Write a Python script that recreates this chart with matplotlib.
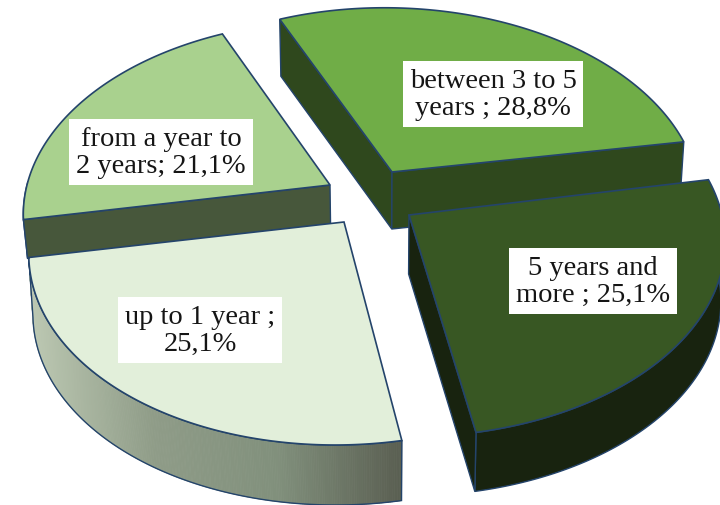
import numpy as np
import matplotlib
matplotlib.use("Agg")
import matplotlib.pyplot as plt
from matplotlib.collections import PolyCollection
from matplotlib.colors import LinearSegmentedColormap
from matplotlib.patches import Polygon

# share of respondents per tenure group
labels = ["between 3 to 5\nyears ; ", "5 years and\nmore ; ", "up to 1 year ;\n", "from a year to\n2 years; "]
values = [28.8, 25.1, 25.1, 21.1]

top_colors = ["#70ad47", "#385723", "#e2efda", "#a9d18e"]
side_colors = ["#2f481d", "#18230f", "#8f9c88", "#47573b"]
edge_color = "#24446b"

# exploded apex of each slice in pixels, and label centres
apex_x = [392, 409, 344, 330]
apex_y = [173, 216, 223, 186]
radius_x = [305, 313, 311, 303]
radius_y = [187, 191, 192, 187]
shear = [0, 0, -0.04, -0.026]
tilt = [0.015, 0, 0, 0]
depth = [57, 59, 60, 39]
label_x = [493, 593, 200, 161]
label_y = [95, 282, 331, 153]

# which straight walls can be seen: (first radius, last radius)
walls = [(True, True), (False, True), (False, False), (True, False)]

start_angle = 114.5
persp = 0.139
side_shrink = 0.012
center_x = 375


# tilted disc with a little perspective, far side compressed
def project(t, i):
  u = np.cos(t)
  v = np.sin(t)
  w = 1 + persp * v
  dx = radius_x[i] * u / w
  dy = -radius_y[i] * v / w
  return apex_x[i] + dx + shear[i] * dy, apex_y[i] + dy + tilt[i] * dx


def lower(x, y, d):
  return x - (x - center_x) * side_shrink, y + d


fig = plt.figure(figsize=(7.2, 5.06), dpi=100)
ax = fig.add_axes([0, 0, 1, 1])

shares = np.array(values) / np.sum(values) * 360
ends = start_angle - np.cumsum(shares)
starts = ends + shares

side_cmap = LinearSegmentedColormap.from_list("side", ["#bcc8b2", "#8f9c88", "#81907c", "#5a5f52"])

# back slices first so the front ones cover them
for order, i in enumerate([0, 3, 2, 1]):
  t = np.radians(np.linspace(starts[i], ends[i], 300))
  x, y = project(t, i)
  xs = np.r_[apex_x[i], x]
  ys = np.r_[apex_y[i], y]
  bx, by = lower(xs, ys, depth[i])
  z = order + 1

  # outer rim, only the part facing the viewer
  front = np.sin(t) < 0.02
  if front.any():
    rx, ry = x[front], y[front]
    rbx, rby = lower(rx, ry, depth[i])
    rim = np.c_[np.r_[rx, rbx[::-1]], np.r_[ry, rby[::-1]]]
    if i == 2:
      # shaded rim made of thin strips, dark towards the right
      strips = [[(rx[k], ry[k]), (rx[k + 1], ry[k + 1]), (rbx[k + 1], rby[k + 1]), (rbx[k], rby[k])]
                for k in range(len(rx) - 1)]
      shade = PolyCollection(strips, cmap=side_cmap, edgecolors="face", linewidths=0.6, zorder=z)
      shade.set_array((rx[:-1] - rx.min()) / (rx.max() - rx.min()))
      ax.add_collection(shade)
      ax.add_patch(Polygon(rim, closed=True, fc="none", ec=edge_color, lw=1.0, zorder=z + 0.1))
    else:
      ax.add_patch(Polygon(rim, closed=True, fc=side_colors[i], ec=edge_color, lw=1.0, zorder=z))

  # inner walls
  for show, j in zip(walls[i], [1, -1]):
    if show:
      wall = [(xs[0], ys[0]), (xs[j], ys[j]), (bx[j], by[j]), (bx[0], by[0])]
      ax.add_patch(Polygon(wall, closed=True, fc=side_colors[i], ec=edge_color, lw=1.0, zorder=z + 0.3))

  # top face
  ax.add_patch(Polygon(np.c_[xs, ys], closed=True, fc=top_colors[i], ec=edge_color, lw=1.2,
                       joinstyle="miter", zorder=z + 0.5))

for i in range(4):
  txt = labels[i] + ("%.1f%%" % values[i]).replace(".", ",")
  ax.text(label_x[i], label_y[i], txt, ha="center", va="center", ma="center", color="#151515",
          family="Liberation Serif", fontsize=20.5, linespacing=1.08, zorder=10,
          bbox=dict(fc="white", ec="none", pad=5))

ax.set_xlim(0, 720)
ax.set_ylim(506, 0)
ax.axis("off")
fig.savefig("out.png", dpi=100)
